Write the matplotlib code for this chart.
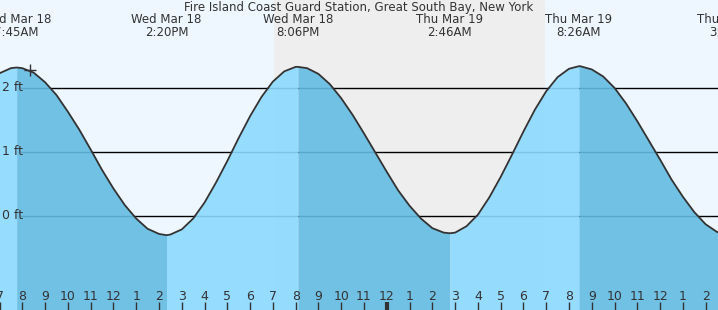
import numpy as np
import matplotlib.pyplot as plt

# tide extremes (hours since Wed Mar 18 00:00), heights in ft
ext_times = [7.75, 14.33, 20.10, 26.77, 32.43, 39.08]
ext_heights = [2.32, -0.30, 2.33, -0.27, 2.34, -0.30]
ext_labels = ["Wed Mar 18\n7:45AM", "Wed Mar 18\n2:20PM", "Wed Mar 18\n8:06PM",
              "Thu Mar 19\n2:46AM", "Thu Mar 19\n8:26AM", "Thu Mar 19\n3:05PM"]

# heights every half hour, 7:00 Wed -> 3:00 Thu afternoon
curve_times = [7.0 + 0.5 * i for i in range(65)]
curve_heights = [2.23, 2.31, 2.31, 2.24, 2.09, 1.89, 1.63, 1.35, 1.04, 0.72,
                 0.43, 0.17, -0.04, -0.20, -0.28, -0.29, -0.21, -0.04, 0.21, 0.52,
                 0.86, 1.22, 1.56, 1.86, 2.10, 2.26, 2.33, 2.31, 2.22, 2.06,
                 1.84, 1.58, 1.29, 0.99, 0.69, 0.40, 0.16, -0.04, -0.19, -0.26,
                 -0.26, -0.16, 0.02, 0.29, 0.61, 0.96, 1.32, 1.66, 1.95, 2.17,
                 2.30, 2.34, 2.29, 2.18, 2.00, 1.76, 1.48, 1.18, 0.88, 0.57,
                 0.30, 0.06, -0.13, -0.25, -0.30]

hours = list(range(7, 39))
sunset = 19.05
sunrise = 30.95
now_time = 8.34
now_height = 2.28
gridlines = [0, 1, 2]
title = "Fire Island Coast Guard Station, Great South Bay, New York"

bg_day = "#eef7ff"
bg_night = "#eeeeee"
rise_color = "#8cd9ff"
fall_color = "#64bce3"
text_color = "#333333"

# merge the half-hour points with the extremes
t = np.array(curve_times + ext_times, dtype=float)
h = np.array(curve_heights + ext_heights, dtype=float)
order = np.argsort(t)
t = t[order]
h = h[order]

fig = plt.figure(figsize=(7.18, 3.10), dpi=100)
ax = fig.add_axes([0, 0, 1, 1])
ax.set_xlim(7.021, 38.54)
ax.set_ylim(-1.469, 3.375)
ax.axis("off")
ax.add_patch(plt.Rectangle((0, 0), 1, 1, transform=ax.transAxes, color=bg_day, zorder=0))

ax.axvspan(sunset, sunrise, color=bg_night, zorder=0.5, lw=0)

for g in gridlines:
    ax.axhline(g, xmin=0.029, xmax=1, color="black", lw=1, zorder=1)
    ax.text(0.003, g, "%d ft" % g, transform=ax.get_yaxis_transform(), ha="left", va="center",
            fontsize=9, color=text_color, zorder=5)

# fill each rising / falling stretch
bounds = [t[0]] + ext_times
for i in range(len(bounds) - 1):
    m = (t >= bounds[i]) & (t <= bounds[i + 1])
    seg_t = t[m]
    seg_h = h[m]
    falling = seg_h[-1] < seg_h[0]
    ax.fill_between(seg_t, -2, seg_h, color=fall_color if falling else rise_color,
                    alpha=0.9, lw=0, zorder=2)

ax.plot(t, h, color=text_color, lw=1.3, zorder=4)
ax.plot(now_time, now_height, marker="+", ms=9, mew=1, color=text_color, zorder=5)

# hour ticks along the bottom
xt = ax.get_xaxis_transform()
for hr in hours:
    lab = hr % 12
    if lab == 0:
        lab = 12
    ax.text(hr, 0.042, str(lab), transform=xt, ha="center", va="center", fontsize=9, color=text_color)
    ax.plot([hr, hr], [0, 0.026], transform=xt, color=text_color, lw=3 if hr % 24 == 0 else 1,
            solid_capstyle="butt", clip_on=False)

for tt, lab in zip(ext_times, ext_labels):
    ax.text(tt, 0.916, lab, transform=xt, ha="center", va="center", fontsize=8.5,
            color=text_color, linespacing=1.0)

ax.text(0.5, 0.977, title, transform=ax.transAxes, ha="center", va="center", fontsize=8.5, color=text_color)

fig.savefig("out.png", dpi=100)
